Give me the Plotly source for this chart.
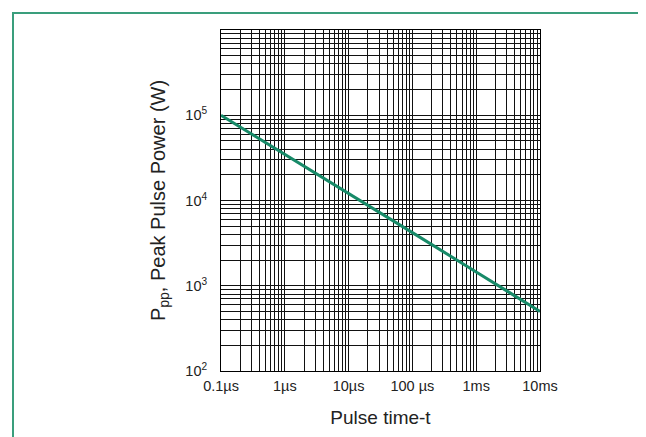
import plotly.graph_objects as go

# Data
pulse_time_s = [1e-7, 1e-6, 1e-5, 1e-4, 1e-3, 1e-2]
peak_power_w = [1.0e5, 3.5e4, 1.2e4, 4.2e3, 1.45e3, 500]

x_tick_vals = [1e-7, 1e-6, 1e-5, 1e-4, 1e-3, 1e-2]
x_tick_text = ["0.1µs", "1µs", "10µs", "100 µs", "1ms", "10ms"]
y_tick_vals = [1e2, 1e3, 1e4, 1e5]
y_tick_text = ["10<sup>2</sup>", "10<sup>3</sup>", "10<sup>4</sup>", "10<sup>5</sup>"]

FONT = "Liberation Sans, Arial, Helvetica, sans-serif"
W, H = 646, 437
L, R, T, B = 213, 532, 22, 363

fig = go.Figure(
    go.Scatter(
        x=pulse_time_s, y=peak_power_w, mode="lines",
        line=dict(color="#178a68", width=3), showlegend=False,
    )
)

grid = dict(showgrid=True, gridcolor="#111111", gridwidth=1)
fig.update_xaxes(
    type="log", range=[-7, -2], tickvals=x_tick_vals, ticktext=x_tick_text,
    ticks="outside", ticklen=2, tickcolor="rgba(0,0,0,0)",
    tickfont=dict(family=FONT, size=14.5, color="#222"),
    showline=True, linecolor="black", linewidth=1, mirror=True,
    minor=dict(dtick="D1", showgrid=True, gridcolor="#111111", gridwidth=1, ticks=""),
    title=dict(text="Pulse time-t", font=dict(family=FONT, size=19, color="#222"), standoff=17),
    zeroline=False, **grid,
)
fig.update_yaxes(
    type="log", range=[2, 6], tickvals=y_tick_vals, ticktext=y_tick_text,
    ticks="outside", ticklen=10, tickcolor="rgba(0,0,0,0)",
    tickfont=dict(family=FONT, size=14.5, color="#222"),
    showline=True, linecolor="black", linewidth=1, mirror=True,
    minor=dict(dtick="D1", showgrid=True, gridcolor="#111111", gridwidth=1, ticks=""),
    title=dict(text="P<sub>pp</sub>, Peak Pulse Power (W)", font=dict(family=FONT, size=20, color="#222"), standoff=14),
    zeroline=False, **grid,
)

pw, ph = R - L, B - T
def px(x):
    return (x - L) / pw
def py(y):
    return (B - y) / ph

frame_color = "#3a9e7c"
fig.update_layout(
    width=W, height=H,
    margin=dict(l=L, r=W - R, t=T, b=H - B, pad=0),
    paper_bgcolor="white", plot_bgcolor="white",
    shapes=[
        dict(type="line", xref="paper", yref="paper", x0=px(5), x1=px(660), y0=py(5), y1=py(5),
             line=dict(color=frame_color, width=2)),
        dict(type="line", xref="paper", yref="paper", x0=px(5), x1=px(5), y0=py(4), y1=py(440),
             line=dict(color=frame_color, width=2)),
        dict(type="line", xref="paper", yref="paper", x0=px(6), x1=px(660), y0=py(436), y1=py(436),
             line=dict(color="#dcefe8", width=2)),
    ],
)

fig.write_html("out.html")
